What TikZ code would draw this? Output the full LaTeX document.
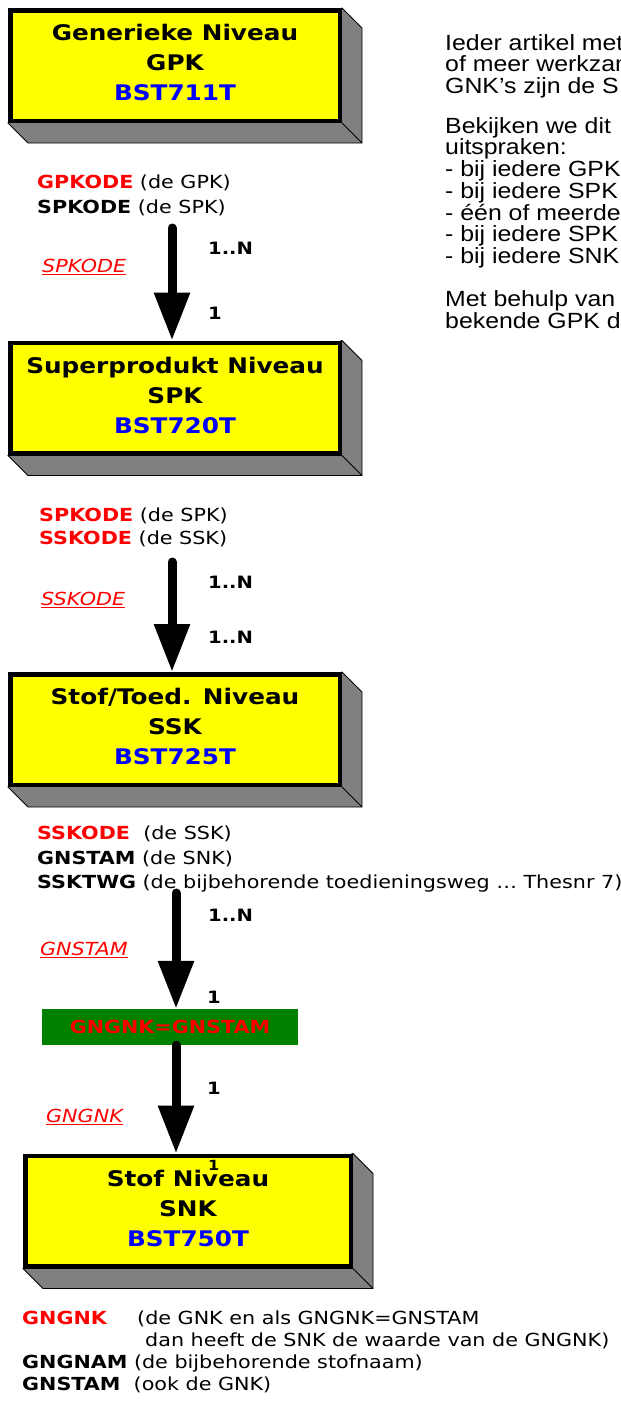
\documentclass[tikz,border=0pt]{standalone}
\usepackage{fontspec}
\setmainfont{DejaVu Sans}[FakeStretch=1.15]
\newfontfamily\arialfont{Liberation Sans}[FakeStretch=1.13]
\usepackage{xcolor}
\usepackage{tikz}
\usetikzlibrary{arrows.meta, positioning, calc, backgrounds}
\definecolor{geel}{HTML}{FFFF00}
\definecolor{blauw}{HTML}{0000FF}
\definecolor{rood}{HTML}{FF0000}
\definecolor{groen}{HTML}{008000}
\definecolor{grijs}{HTML}{808080}

\begin{document}
\begin{tikzpicture}[x=1pt, y=-1pt,
    niveau/.style={draw, line width=4.5pt, fill=geel, minimum width=329.5pt, minimum height=110.5pt, inner sep=0pt, text depth=6pt, align=center, font=\fontsize{21.5}{30}\selectfont\bfseries},
    schaduw/.style={draw, line width=0.8pt, fill=grijs},
    pijl/.style={line width=9pt, line cap=round, -{Triangle[width=34pt, length=48pt]}},
    velden/.style={anchor=north west, inner sep=0pt, align=left, font=\fontsize{18}{25}\selectfont},
    sleutel/.style={anchor=west, inner sep=0pt, text=rood, font=\fontsize{18}{22}\selectfont\itshape},
    kard/.style={anchor=west, inner sep=0pt, font=\fontsize{17}{20}\selectfont\bfseries}
]
    \useasboundingbox (0,0) rectangle (621,1403);

    \node[niveau] (gpk) at (175, 65.5) {Generieke Niveau\\GPK\\\textcolor{blauw}{BST711T}};
    \node[niveau] (spk) at (175, 398)  {Superprodukt Niveau\\SPK\\\textcolor{blauw}{BST720T}};
    \node[niveau] (ssk) at (175, 729.5) {Stof/Toed. Niveau\\SSK\\\textcolor{blauw}{BST725T}};
    \node[niveau, minimum width=325.5pt] (snk) at (188, 1211) {Stof Niveau\\SNK\\\textcolor{blauw}{BST750T}};

    \begin{scope}[on background layer]
        \foreach \n in {gpk, spk, ssk, snk} {
            \draw[schaduw] (\n.north east) -- ([shift={(20,20)}]\n.north east) -- ([shift={(20,20)}]\n.south east)
                -- ([shift={(20,20)}]\n.south west) -- (\n.south west) -- cycle;
            \draw[line width=0.8pt] (\n.south east) -- ([shift={(20,20)}]\n.south east);
        }
    \end{scope}

    \node[fill=groen, minimum width=256pt, minimum height=36pt, inner sep=0pt, text=rood,
        font=\fontsize{18}{20}\selectfont\bfseries] (gnk) at (170, 1027) {GNGNK=GNSTAM};

    \node[velden] (gpkvelden) at (37, 175) {\textcolor{rood}{\textbf{GPKODE}} (de GPK)\\\textbf{SPKODE} (de SPK)};
    \node[velden, font=\fontsize{18}{23}\selectfont] (spkvelden) at (39, 508) {\textcolor{rood}{\textbf{SPKODE}} (de SPK)\\\textcolor{rood}{\textbf{SSKODE}} (de SSK)};
    \node[velden, font=\fontsize{18}{24.5}\selectfont] (sskvelden) at (37, 826) {\textcolor{rood}{\textbf{SSKODE}}\ \ (de SSK)\\\textbf{GNSTAM} (de SNK)\\\textbf{SSKTWG} (de bijbehorende toedieningsweg … Thesnr 7)};
    \node[velden, font=\fontsize{18}{22}\selectfont] (snkvelden) at (22, 1311) {\makebox[115pt][l]{\textcolor{rood}{\textbf{GNGNK}}}(de GNK en als GNGNK=GNSTAM\\\hspace*{123pt}dan heeft de SNK de waarde van de GNGNK)\\\textbf{GNGNAM} (de bijbehorende stofnaam)\\\textbf{GNSTAM}\ \ (ook de GNK)};

    \node[sleutel] (k1) at (42, 267) {\underline{SPKODE}};
    \node[sleutel] (k2) at (41, 600) {\underline{SSKODE}};
    \node[sleutel] (k3) at (40, 950) {\underline{GNSTAM}};
    \node[sleutel] (k4) at (46, 1117) {\underline{GNGNK}};

    \node[kard] (c1a) at (208, 248) {1..N};
    \node[kard] (c1b) at (208, 313) {1};
    \node[kard] (c2a) at (208, 582) {1..N};
    \node[kard] (c2b) at (208, 637) {1..N};
    \node[kard] (c3a) at (208, 915) {1..N};
    \node[kard] (c3b) at (207, 997) {1};
    \node[kard] (c4a) at (207, 1088) {1};
    \node[kard, font=\fontsize{14}{15}\selectfont\bfseries] (c4b) at (208, 1165) {1};

    \coordinate (p1) at (172, 228);
    \coordinate (p2) at (172, 562);
    \coordinate (p3) at (176, 893);
    \draw[pijl] (p1) -- (p1 |- spk.north);
    \draw[pijl] (p2) -- (p2 |- ssk.north);
    \draw[pijl] (p3) -- (p3 |- gnk.north);
    \draw[pijl] (p3 |- gnk.south) -- (p3 |- snk.north);

    \begin{scope}
        \clip (0,0) rectangle (621,1403);
        \node[anchor=north west, inner sep=0pt, align=left, font=\arialfont\fontsize{22}{21.7}\selectfont] (uitleg) at (445, 34)
            {Ieder artikel met\\of meer werkzam\\GNK’s zijn de S\\[18pt]Bekijken we dit\\uitspraken:\\- bij iedere GPK\\- bij iedere SPK\\- één of meerder\\- bij iedere SPK\\- bij iedere SNK\\[21.7pt]Met behulp van\\bekende GPK d};
    \end{scope}
\end{tikzpicture}
\end{document}
